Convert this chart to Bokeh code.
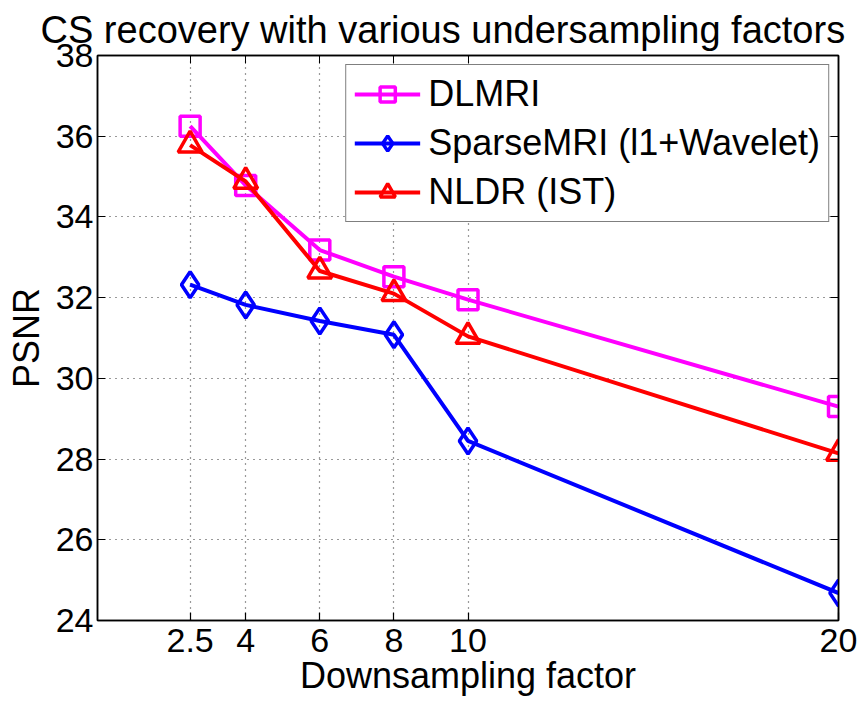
from bokeh.plotting import figure
from bokeh.models import LinearAxis, Range1d, FixedTicker, Legend, LegendItem, Title
from bokeh.embed import file_html
from bokeh.resources import INLINE

factors = [2.5, 4, 6, 8, 10, 20]
dlmri = [36.25, 34.78, 33.18, 32.52, 31.95, 29.30]
sparsemri = [32.32, 31.82, 31.42, 31.08, 28.45, 24.68]
nldr = [35.78, 34.88, 32.66, 32.10, 31.04, 28.14]
x_ticks = [2.5, 4, 6, 8, 10, 20]
y_ticks = [24, 26, 28, 30, 32, 34, 36, 38]
title_text = "CS recovery with various undersampling factors"
FONT = "Liberation Sans"

p = figure(width=862, height=706, output_backend="svg", toolbar_location=None,
           x_range=Range1d(0, 20), y_range=Range1d(24, 38),
           min_border_left=97, min_border_right=24, min_border_top=55, min_border_bottom=86)
p.outline_line_color = "black"
p.outline_line_width = 1.5

for ax in (p.xaxis[0], p.yaxis[0]):
    ax.major_label_text_font = FONT
    ax.major_label_text_font_size = "34px"
    ax.major_label_text_color = "black"
    ax.axis_label_text_font = FONT
    ax.axis_label_text_font_size = "36px"
    ax.axis_label_text_font_style = "normal"
    ax.axis_label_text_color = "black"
    ax.major_tick_in = 8
    ax.major_tick_out = 0
    ax.minor_tick_line_color = None
    ax.axis_line_width = 1.5
    ax.major_tick_line_width = 1.2

p.xaxis[0].ticker = FixedTicker(ticks=x_ticks)
p.xaxis[0].major_label_overrides = {2.5: "2.5", 4: "4", 6: "6", 8: "8", 10: "10", 20: "20"}
p.yaxis[0].ticker = FixedTicker(ticks=y_ticks)
p.xaxis[0].axis_label = "Downsampling factor"
p.yaxis[0].axis_label = "PSNR"
p.xaxis[0].major_label_standoff = 8
p.yaxis[0].major_label_standoff = 4
p.xaxis[0].axis_label_standoff = 0
p.yaxis[0].axis_label_standoff = 6

top = LinearAxis(ticker=FixedTicker(ticks=x_ticks), major_label_text_color=None,
                 major_label_text_font_size="1px", major_label_standoff=0,
                 major_tick_in=8, major_tick_out=0, minor_tick_line_color=None,
                 axis_line_width=1.5)
right = LinearAxis(ticker=FixedTicker(ticks=y_ticks), major_label_text_color=None,
                   major_label_text_font_size="1px", major_label_standoff=0,
                   major_tick_in=8, major_tick_out=0, minor_tick_line_color=None,
                   axis_line_width=1.5)
p.add_layout(top, "above")
p.add_layout(right, "right")

p.xgrid.ticker = FixedTicker(ticks=x_ticks)
p.ygrid.ticker = FixedTicker(ticks=y_ticks)
for g in (p.xgrid, p.ygrid):
    g.grid_line_color = "black"
    g.grid_line_dash = "1 5"
    g.grid_line_width = 1.2
    g.grid_line_alpha = 0.8

lw = 4
r1 = p.line(factors, dlmri, line_color="#ff00ff", line_width=lw)
m1 = p.scatter(factors, dlmri, marker="square", size=20, line_color="#ff00ff",
               line_width=3.5, fill_alpha=0)
r2 = p.line(factors, sparsemri, line_color="#0000ff", line_width=lw)
m2 = p.scatter(factors, sparsemri, marker="diamond", size=26, line_color="#0000ff",
               line_width=3.5, fill_alpha=0)
r3 = p.line(factors, nldr, line_color="#ff0000", line_width=lw)
m3 = p.scatter(factors, nldr, marker="triangle", size=24, line_color="#ff0000",
               line_width=3.5, fill_alpha=0)

legend = Legend(items=[
    LegendItem(label="DLMRI", renderers=[r1, m1]),
    LegendItem(label="SparseMRI (l1+Wavelet)", renderers=[r2, m2]),
    LegendItem(label="NLDR (IST)", renderers=[r3, m3]),
], location="top_right")
legend.label_text_font = FONT
legend.label_text_font_size = "36px"
legend.label_text_color = "black"
legend.glyph_width = 66
legend.glyph_height = 38
legend.label_height = 38
legend.label_standoff = 8
legend.spacing = 7
legend.padding = 8
legend.margin = 9
legend.border_line_color = "black"
legend.border_line_width = 1.5
legend.background_fill_alpha = 1
p.add_layout(legend)

p.add_layout(Title(text=title_text, text_font=FONT, text_font_size="38px",
                   text_font_style="normal", text_color="black", align="left",
                   offset=-57, standoff=9), "above")

open("out.html", "w").write(file_html(p, INLINE))
